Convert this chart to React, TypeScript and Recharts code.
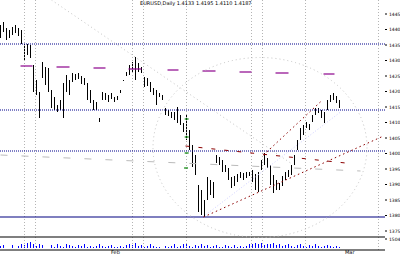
import React from 'react';
import { ComposedChart, Bar, XAxis, YAxis, ReferenceLine, ReferenceDot } from 'recharts';

// price panel values (chart units), one per bar
const highs = [230,233,227,225,228,230,227,225,211,211,210,190,175,163,193,188,187,165,158,150,155,172,180,175,182,181,182,179,177,172,165,155,153,137,163,162,160,162,158,159,165,175,183,190,193,198,192,188,178,177,173,167,165,162,160,147,145,143,143,148,140,132,140,125,110,100,70,65,55,78,75,73,100,98,95,90,87,78,79,81,83,82,83,83,85,81,83,95,102,97,90,80,75,72,79,83,85,90,100,115,127,130,133,131,140,147,147,145,143,155,160,162,159,155];
const lows = [217,223,215,217,220,222,219,211,195,200,197,163,160,137,177,170,163,147,145,143,145,137,163,160,173,175,176,171,170,155,152,145,145,133,155,155,153,156,153,155,162,174,179,180,182,175,183,182,168,169,163,160,150,158,155,140,139,137,135,132,130,123,115,105,88,80,43,40,38,55,60,57,92,90,83,83,75,67,69,73,77,75,77,79,73,65,63,85,90,87,70,62,65,65,69,75,78,80,90,105,115,120,127,125,133,140,142,137,132,145,153,155,152,147];
const volumes = [2,3,0,0,3,0,2,4,3,5,6,4,2,4,3,0,0,3,1,4,2,1,4,3,2,1,3,2,4,1,2,1,2,4,2,1,2,3,1,1,2,1,3,4,3,5,2,3,1,2,4,2,1,1,0,2,1,2,4,1,2,4,5,2,1,3,2,4,2,3,1,2,3,1,1,3,2,1,3,1,2,1,2,4,4,5,4,5,3,4,4,5,3,4,2,3,4,2,1,3,4,2,1,3,2,4,2,1,2,3,2,1,2,1];

// axis ticks and labels
const priceTicks = [241, 225.5, 210, 194.5, 179, 163.5, 148, 132.5, 117, 101.5, 86, 70.5, 55, 39.5, 24, 16];
const tickLabels = ['1445', '1440', '1435', '1430', '1425', '1420', '1415', '1410', '1405', '1400', '1395', '1390', '1385', '1380', '1375', '1504'];

// horizontal levels
const blueLevels = [211, 145, 104];
const supportLevel = 38;
const volumeFrame = [18, 5];

// vertical session separators (bar index)
const separators = [8, 11.67, 44, 47.67, 62, 83.67, 87.33, 101.67, 126];

// pivot dashes
const pivotStart = [6.67, 18.67, 31, 42.67, 55.67, 67.33, 79.67, 91.67, 107.67];
const pivotEnd = [10.67, 23, 35, 47, 59.33, 71.67, 83.67, 96, 111.33];
const pivotLevel = [189, 188, 187, 186, 185, 184, 183, 182, 181];

// green markers
const greenIdx = [61.4, 61.4, 61.4, 61.2];
const greenLevel = [136, 118, 102, 87];

// trend lines: [x1, y1, x2, y2]
const grayDiagonal = [17, 255, 96.67, 92];
const redRising = [67.67, 38, 127.67, 119];
const redSteep = [87.67, 100, 107.33, 155];
const redDashed = [61.67, 109, 115, 92];
const grayDashed = [0, 100, 120, 84];
const lavender = [68.33, 40, 113.33, 143];
const ellipseCenter = [86.5, 107.5];

const title = 'EURUSD,Daily  1.4133 1.4195 1.4110 1.4187';
const dateLabels = ['Feb', 'Mar'];

const data = highs.map((h, i) => ({ i, hi: h, lo: lows[i], vol: volumes[i] }));

const seg = (s: number[]) => [{ x: s[0], y: s[1] }, { x: s[2], y: s[3] }];

export default function App() {
  return (
    <div style={{ position: 'absolute', left: 0, top: 0, width: 400, height: 255, background: '#fff', overflow: 'hidden', fontFamily: 'DejaVu Sans' }}>
      <ComposedChart width={400} height={255} data={data} margin={{ top: 0, right: 0, bottom: 0, left: 0 }}>
        <XAxis xAxisId="p" type="number" dataKey="i" domain={[-0.1667, 128.1667]} hide allowDataOverflow />
        <XAxis xAxisId="v" type="number" dataKey="i" domain={[-0.1667, 128.1667]} hide allowDataOverflow />
        <YAxis
          yAxisId="p"
          orientation="right"
          width={15}
          domain={[0, 255]}
          ticks={priceTicks}
          interval={0}
          allowDataOverflow
          axisLine={false}
          tickSize={2}
          tickLine={{ stroke: '#000' }}
          tick={{ fontSize: 4.5, fill: '#000', fontFamily: 'DejaVu Sans' }}
          tickFormatter={(v: number) => tickLabels[priceTicks.indexOf(v)] ?? ''}
        />
        <YAxis yAxisId="v" hide domain={[-7, 248]} allowDataOverflow />

        {separators.map((x, k) => (
          <ReferenceLine key={'s' + k} xAxisId="p" yAxisId="p" segment={[{ x, y: 5 }, { x, y: 255 }]} stroke="#b4b4b4" strokeDasharray="1 2" ifOverflow="visible" />
        ))}
        {blueLevels.map((y, k) => (
          <ReferenceLine key={'b' + k} xAxisId="p" yAxisId="p" y={y} stroke="#00008b" strokeDasharray="1 1" />
        ))}
        <ReferenceLine xAxisId="p" yAxisId="p" y={supportLevel} stroke="#000080" strokeWidth={1.2} />
        {volumeFrame.map((y, k) => (
          <ReferenceLine key={'f' + k} xAxisId="p" yAxisId="p" y={y} stroke="#000" strokeWidth={1.2} />
        ))}

        <ReferenceDot
          xAxisId="p"
          yAxisId="p"
          x={ellipseCenter[0]}
          y={ellipseCenter[1]}
          r={1}
          ifOverflow="visible"
          shape={(p: any) => (
            <ellipse cx={p.cx} cy={p.cy} rx={107} ry={90} fill="none" stroke="#c4c4c4" strokeDasharray="1 3" />
          )}
        />
        <ReferenceLine xAxisId="p" yAxisId="p" segment={seg(grayDiagonal)} stroke="#c4c4c4" strokeDasharray="1 3" ifOverflow="visible" />
        <ReferenceLine xAxisId="p" yAxisId="p" segment={seg(grayDashed)} stroke="#bbbbbb" strokeDasharray="7 14" ifOverflow="visible" />
        <ReferenceLine xAxisId="p" yAxisId="p" segment={seg(lavender)} stroke="#d0d0ff" strokeDasharray="1 2" ifOverflow="visible" />
        <ReferenceLine xAxisId="p" yAxisId="p" segment={seg(redDashed)} stroke="#8b0000" strokeDasharray="4 9" ifOverflow="visible" />
        <ReferenceLine xAxisId="p" yAxisId="p" segment={seg(redRising)} stroke="#8b0000" strokeDasharray="1.5 3" ifOverflow="visible" />
        <ReferenceLine xAxisId="p" yAxisId="p" segment={seg(redSteep)} stroke="#8b0000" strokeDasharray="1.5 3" ifOverflow="visible" />

        {pivotStart.map((s, k) => (
          <ReferenceLine key={'pv' + k} xAxisId="p" yAxisId="p" segment={[{ x: s, y: pivotLevel[k] }, { x: pivotEnd[k], y: pivotLevel[k] }]} stroke="#8b008b" strokeWidth={1.2} ifOverflow="visible" />
        ))}
        {greenIdx.map((x, k) => (
          <ReferenceLine key={'g' + k} xAxisId="p" yAxisId="p" segment={[{ x, y: greenLevel[k] }, { x: x + 1.3, y: greenLevel[k] }]} stroke="#008000" strokeWidth={1.2} ifOverflow="visible" />
        ))}

        <Bar xAxisId="p" yAxisId="p" dataKey={(d: any) => [d.lo, d.hi]} barSize={1} fill="#000" isAnimationActive={false} />
        <Bar xAxisId="v" yAxisId="v" dataKey="vol" barSize={1} fill="#0000ff" isAnimationActive={false} />
      </ComposedChart>
      <div style={{ position: 'absolute', left: 140, top: 0, fontSize: 5, lineHeight: '6px', color: '#000', whiteSpace: 'nowrap' }}>{title}</div>
      <div style={{ position: 'absolute', left: 111, top: 249, fontSize: 5, lineHeight: '6px', color: '#000' }}>{dateLabels[0]}</div>
      <div style={{ position: 'absolute', left: 345, top: 249, fontSize: 5, lineHeight: '6px', color: '#000' }}>{dateLabels[1]}</div>
    </div>
  );
}
